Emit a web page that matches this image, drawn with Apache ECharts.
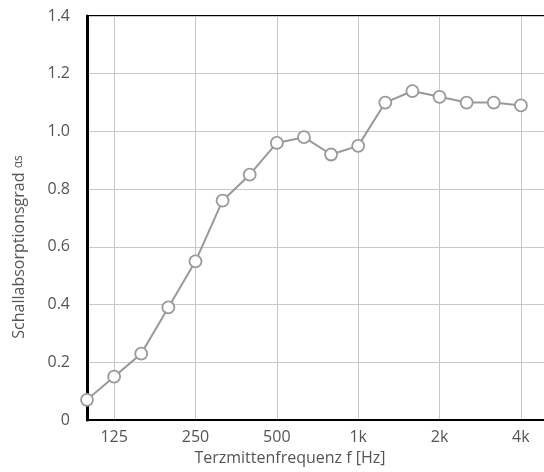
<!DOCTYPE html>
<html><head><meta charset="utf-8">
<script src="https://cdn.jsdelivr.net/npm/echarts@6/dist/echarts.min.js"></script>
<style>html,body{margin:0;padding:0;background:#fff;overflow:hidden;width:544px;height:472px}#c{width:548px;height:472px}</style>
</head><body><div id="c"></div>
<script>
const categories = ['100','125','160','200','250','315','400','500','630','800','1k','1.25k','1.6k','2k','2.5k','3.15k','4k','5k'];
const tickLabels = ['125','250','500','1k','2k','4k'];
const alphaS = [0.07,0.15,0.23,0.39,0.55,0.76,0.85,0.96,0.98,0.92,0.95,1.10,1.14,1.12,1.10,1.10,1.09];

const font = 'Open Sans';
const txt = '#555';
const chart = echarts.init(document.getElementById('c'));
chart.setOption({
  animation:false,
  grid:{left:87,right:0,top:16,bottom:52,show:true,borderColor:'#000',borderWidth:2,backgroundColor:'transparent'},
  xAxis:{type:'category',data:categories,boundaryGap:false,
    axisLine:{show:true,lineStyle:{color:'#000',width:2}},
    axisTick:{show:false},
    axisLabel:{interval:(i,v)=>tickLabels.indexOf(v)>=0,color:txt,fontFamily:font,fontSize:16,margin:9},
    splitLine:{show:true,interval:(i,v)=>tickLabels.indexOf(v)>=0,lineStyle:{color:'#c8c8c8',width:1}}
  },
  yAxis:{type:'value',min:0,max:1.4,interval:0.2,
    axisLine:{show:true,lineStyle:{color:'#000',width:3}},
    axisTick:{show:false},
    axisLabel:{color:txt,fontFamily:font,fontSize:16,margin:17,formatter:v=>v===0?'0':v.toFixed(1)},
    splitLine:{show:true,lineStyle:{color:'#c8c8c8',width:1}}
  },
  graphic:[
    {type:'text',x:290,y:458,style:{text:'Terzmittenfrequenz f [Hz]',font:'16px "Open Sans"',fill:txt,textAlign:'center',textVerticalAlign:'middle'}},
    {type:'text',x:19,y:247,rotation:Math.PI/2,style:{rich:{a:{font:'16px "Open Sans"',fill:txt},b:{font:'12px "Open Sans"',fill:txt}},text:'{a|Schallabsorptionsgrad }{b|αs}',textAlign:'center',textVerticalAlign:'middle'}}
  ],
  series:[{type:'line',data:alphaS,symbol:'circle',symbolSize:12,
    lineStyle:{color:'#999',width:2},
    itemStyle:{color:'#fff',borderColor:'#999',borderWidth:1.8},
    z:5}]
});
</script></body></html>
